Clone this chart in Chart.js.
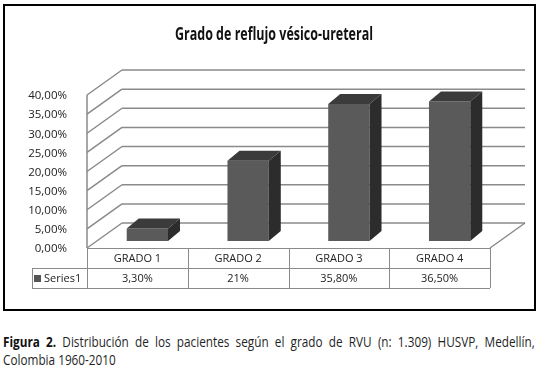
<!DOCTYPE html>
<html>
<head>
<meta charset="utf-8">
<script src="https://cdn.jsdelivr.net/npm/chart.js@4"></script>
<style>
  body { margin: 0; background: #fff; }
  #wrap { position: relative; width: 539px; height: 373px; overflow: hidden; }
  #chart { position: absolute; left: 0; top: 0; }
  #frame { position: absolute; left: 3px; top: 4px; width: 533px; height: 307px;
           border: 2px solid #000; box-sizing: border-box; pointer-events: none; }
  .cap { position: absolute; left: 3px; width: 633px; transform: scaleX(0.84); transform-origin: 0 0;
         font: 14px "Open Sans", sans-serif; color: #1f1f1f; line-height: 18px; white-space: nowrap; }
  .cap.l1 { top: 333px; text-align: justify; text-align-last: justify; white-space: normal; }
  .cap.l2 { top: 351px; }
  .cap b { color: #111; }
</style>
</head>
<body>
<div id="wrap">
  <canvas id="chart" width="539" height="312"></canvas>
  <div id="frame"></div>
  <div class="cap l1"><b>Figura 2.</b> Distribución de los pacientes según el grado de RVU (n: 1.309) HUSVP, Medellín,</div>
  <div class="cap l2">Colombia 1960-2010</div>
</div>
<script>
const titulo = 'Grado de reflujo vésico-ureteral';
const serie = 'Series1';
const grados = ['GRADO 1', 'GRADO 2', 'GRADO 3', 'GRADO 4'];
const porcentajes = [3.3, 21, 35.8, 36.5];
const etiquetasTabla = ['3,30%', '21%', '35,80%', '36,50%'];
const yTicks = [0, 5, 10, 15, 20, 25, 30, 35, 40];

// offsets of the front and back planes relative to the bar plane
const FRONT = { dx: -10, dy: 7 };
const BACK = { dx: 25, dy: -18 };
const DEPTH = { dx: 12, dy: -10 };

function line(ctx, x1, y1, x2, y2) {
  ctx.beginPath();
  ctx.moveTo(x1, y1);
  ctx.lineTo(x2, y2);
  ctx.stroke();
}

const paredes = {
  id: 'paredes',
  beforeDatasetsDraw(chart) {
    const { ctx, chartArea: a, scales: { y } } = chart;
    ctx.save();
    ctx.strokeStyle = '#8a8a8a';
    ctx.lineWidth = 1.5;
    yTicks.forEach(v => {
      const py = y.getPixelForValue(v);
      line(ctx, a.left + BACK.dx, py + BACK.dy, a.right + BACK.dx, py + BACK.dy);
      line(ctx, a.left + FRONT.dx, py + FRONT.dy, a.left + BACK.dx, py + BACK.dy);
    });
    const yTop = y.getPixelForValue(yTicks[yTicks.length - 1]);
    line(ctx, a.left + FRONT.dx, yTop + FRONT.dy, a.left + FRONT.dx, a.bottom + FRONT.dy);
    line(ctx, a.right + FRONT.dx, a.bottom + FRONT.dy, a.right + BACK.dx, a.bottom + BACK.dy);
    ctx.restore();
  }
};

const barras3d = {
  id: 'barras3d',
  afterDatasetsDraw(chart) {
    const { ctx } = chart;
    ctx.save();
    chart.getDatasetMeta(0).data.forEach(bar => {
      const { x, y, base, width } = bar.getProps(['x', 'y', 'base', 'width'], true);
      const l = x - width / 2, r = x + width / 2;
      // top
      ctx.fillStyle = '#3b3b3b';
      ctx.beginPath();
      ctx.moveTo(l, y);
      ctx.lineTo(r, y);
      ctx.lineTo(r + DEPTH.dx, y + DEPTH.dy);
      ctx.lineTo(l + DEPTH.dx, y + DEPTH.dy);
      ctx.closePath();
      ctx.fill();
      // side
      ctx.fillStyle = '#2c2c2c';
      ctx.beginPath();
      ctx.moveTo(r, y);
      ctx.lineTo(r + DEPTH.dx, y + DEPTH.dy);
      ctx.lineTo(r + DEPTH.dx, base + DEPTH.dy);
      ctx.lineTo(r, base);
      ctx.closePath();
      ctx.fill();
    });
    ctx.restore();
  }
};

const tabla = {
  id: 'tabla',
  afterDraw(chart) {
    const { ctx, chartArea: a } = chart;
    const top = a.bottom + FRONT.dy;
    const rowH = 20;
    const left = a.left + FRONT.dx;
    const right = a.right + FRONT.dx;
    const colW = (right - left) / grados.length;
    const legendLeft = left - 55;
    ctx.save();
    ctx.strokeStyle = '#8a8a8a';
    ctx.lineWidth = 1;
    line(ctx, left, top + 0.5, right, top + 0.5);
    line(ctx, legendLeft, top + rowH + 0.5, right, top + rowH + 0.5);
    line(ctx, legendLeft, top + 2 * rowH + 0.5, right, top + 2 * rowH + 0.5);
    line(ctx, legendLeft + 0.5, top + rowH, legendLeft + 0.5, top + 2 * rowH);
    for (let k = 0; k <= grados.length; k++) {
      const cx = Math.round(left + k * colW) + 0.5;
      line(ctx, cx, top, cx, top + 2 * rowH);
    }
    ctx.fillStyle = '#222';
    ctx.font = '11px "Open Sans", sans-serif';
    ctx.textAlign = 'center';
    ctx.textBaseline = 'middle';
    grados.forEach((g, i) => {
      const cx = left + (i + 0.5) * colW;
      ctx.fillText(g, cx, top + rowH / 2 + 1);
      ctx.fillText(etiquetasTabla[i], cx, top + rowH * 1.5 + 1);
    });
    ctx.fillStyle = '#555';
    ctx.fillRect(legendLeft + 2, top + rowH * 1.5 - 3, 7, 7);
    ctx.fillStyle = '#222';
    ctx.textAlign = 'left';
    ctx.fillText(serie, legendLeft + 12, top + rowH * 1.5 + 1);
    ctx.restore();
  }
};

const tituloPlugin = {
  id: 'tituloPlugin',
  afterDraw(chart) {
    const { ctx } = chart;
    ctx.save();
    ctx.font = 'bold 17px "Open Sans", sans-serif';
    ctx.fillStyle = '#111';
    ctx.textBaseline = 'middle';
    ctx.textAlign = 'center';
    const w = ctx.measureText(titulo).width;
    const s = 198 / w;
    ctx.translate(274, 35);
    ctx.scale(s, 1);
    ctx.fillText(titulo, 0, 0);
    ctx.restore();
  }
};

new Chart(document.getElementById('chart'), {
  type: 'bar',
  data: {
    labels: grados,
    datasets: [{
      label: serie,
      data: porcentajes,
      backgroundColor: '#5a5a5a',
      borderWidth: 0,
      barPercentage: 0.41,
      categoryPercentage: 1
    }]
  },
  options: {
    responsive: false,
    animation: false,
    layout: { padding: { top: 88, right: 39, bottom: 71, left: 0 } },
    plugins: {
      legend: { display: false },
      tooltip: { enabled: false },
      title: { display: false }
    },
    scales: {
      x: { display: false },
      y: {
        min: 0,
        max: 40,
        afterFit: scale => { scale.width = 97; },
        grid: { display: false },
        border: { display: false },
        ticks: {
          stepSize: 5,
          padding: 22,
          labelOffset: 8,
          color: '#222',
          font: { family: 'Open Sans', size: 11.5 },
          callback: v => v.toFixed(2).replace('.', ',') + '%'
        }
      }
    }
  },
  plugins: [paredes, barras3d, tabla, tituloPlugin]
});
</script>
</body>
</html>
